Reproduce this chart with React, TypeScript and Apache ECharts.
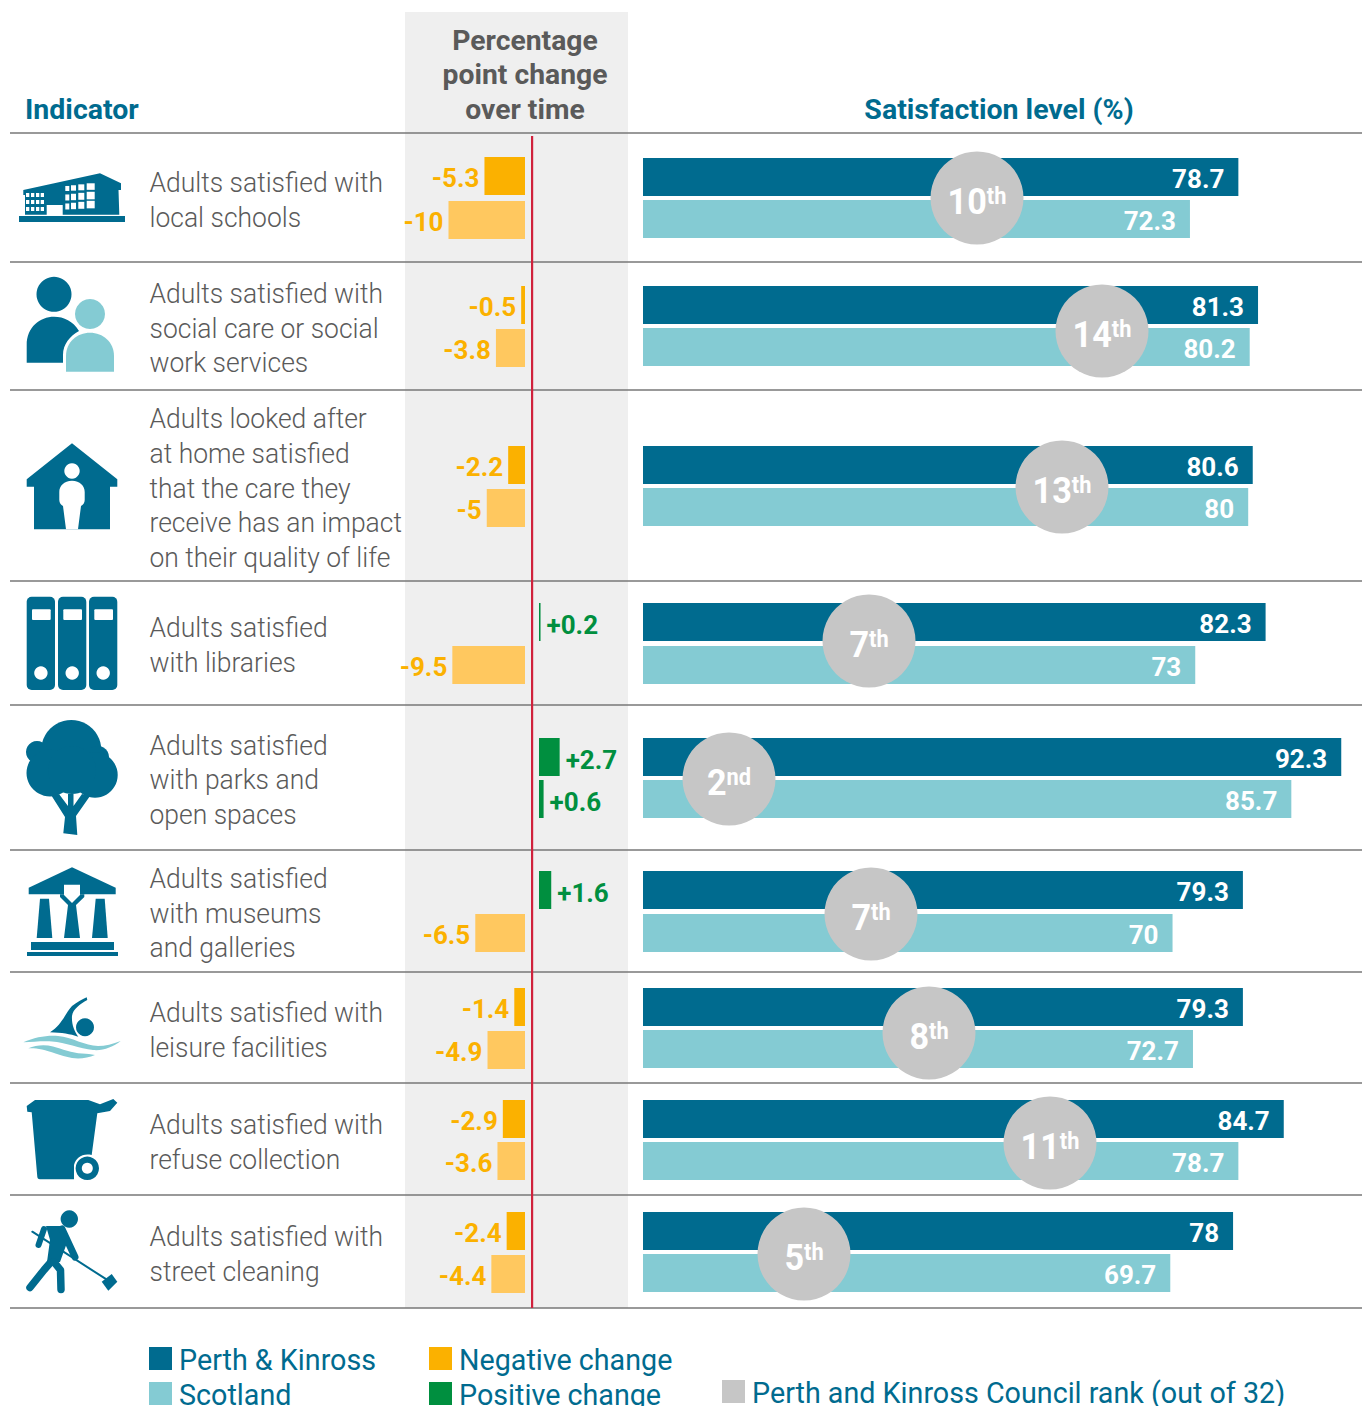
import React, { useEffect, useRef } from "react";
import * as echarts from "echarts";

const indicators = [
  "Adults satisfied with\nlocal schools",
  "Adults satisfied with\nsocial care or social\nwork services",
  "Adults looked after\nat home satisfied\nthat the care they\nreceive has an impact\non their quality of life",
  "Adults satisfied\nwith libraries",
  "Adults satisfied\nwith parks and\nopen spaces",
  "Adults satisfied\nwith museums\nand galleries",
  "Adults satisfied with\nleisure facilities",
  "Adults satisfied with\nrefuse collection",
  "Adults satisfied with\nstreet cleaning",
];
const perthKinross = [78.7, 81.3, 80.6, 82.3, 92.3, 79.3, 79.3, 84.7, 78];
const scotland = [72.3, 80.2, 80, 73, 85.7, 70, 72.7, 78.7, 69.7];
const changeFirst = [-5.3, -0.5, -2.2, 0.2, 2.7, 1.6, -1.4, -2.9, -2.4];
const changeSecond = [-10, -3.8, -5, -9.5, 0.6, -6.5, -4.9, -3.6, -4.4];
const ranks = ["10", "14", "13", "7", "2", "7", "8", "11", "5"];
const rankSuffix = ["th", "th", "th", "th", "nd", "th", "th", "th", "th"];

// layout (pixels)
const barTop1 = [158, 286, 446, 603, 738, 871, 988, 1100, 1212];
const barTop2 = [200, 328, 488, 646, 780, 914, 1030, 1142, 1254];
const changeTop1 = [157, 286, 446, 603, 738, 871, 988, 1100, 1212];
const changeTop2 = [201, 329, 489, 646, 780, 914, 1031, 1142, 1255];
const rowLines = [133, 262, 390, 581, 705, 850, 972, 1083, 1195, 1308];
const textMid = [200, 328.5, 488.5, 645.5, 780, 913.5, 1030.5, 1142, 1254.5];
const rankX = [977, 1102, 1062, 869, 729, 871, 929, 1050, 804];
const rankY = [198, 331, 487, 641, 779, 914, 1033, 1143, 1254];

const DARK = "#006b8f";
const LIGHT = "#84cbd3";
const ORANGE = "#fbb100";
const ORANGE_L = "#ffc85f";
const GREEN = "#008f3f";
const GREY_T = "#5a5a5a";
const FONT = "Roboto";
const BAR_H = 38;
const CHANGE_PX = 7.65;
const SAT_PX = 7.565;

let shapeId = 0;
const P = (d: string, fill: string) => {
  const name = "ico" + shapeId++;
  echarts.graphic.registerShape(name, echarts.graphic.extendPath(d, {}) as any);
  return { type: name, z: 50, style: { fill } };
};
const S = (d: string, stroke: string, lineWidth: number) => {
  const name = "ico" + shapeId++;
  echarts.graphic.registerShape(name, echarts.graphic.extendPath(d, {}) as any);
  return { type: name, z: 50, style: { fill: "none", stroke, lineWidth, lineCap: "round", lineJoin: "round" } };
};
const C = (cx: number, cy: number, r: number, fill: string) => ({ type: "circle", z: 50, shape: { cx, cy, r }, style: { fill } });
const R = (x: number, y: number, width: number, height: number, fill: string, r = 0) => ({ type: "rect", z: 50, shape: { x, y, width, height, r }, style: { fill } });

function buildIcons() {
  const W = "#ffffff";
  const school = [
    R(19, 216, 106, 6, DARK),
    P("M23.3 190 L100 173.3 L121 183.3 L121 190 L118.5 190 L119.3 214.7 L62.7 214.7 L62.7 205 L46.7 205 L46.7 214.7 L25 214.7 L25 195 L23.3 195Z", DARK),
  ] as any[];
  [26, 31, 36, 40.7].forEach((x) => [193, 200, 207].forEach((y) => school.push(R(x, y, 3.3, 4, W))));
  [[65.3, 4], [71, 5], [78.3, 6], [86.7, 8]].forEach(([x, w]) =>
    [[186, 5], [194.5, 6], [203.5, 6]].forEach(([y, h]) => school.push(R(x, y - (x - 65) / 8, w, h + (x - 65) / 14, W)))
  );
  const people = [
    C(54, 294.3, 17.5, DARK),
    C(90, 314, 15, LIGHT),
    P("M26.7 362.7 L26.7 345 C26.7 327 40 316.7 54 316.7 C64 316.7 73 321 79 331 C70 336 63 344 63 355 L63 362.7Z", DARK),
    P("M66 371.7 L66 356 C66 342 77 332.7 90 332.7 C103 332.7 114 342 114 356 L114 371.7Z", LIGHT),
  ];
  const house = [
    P("M72 443.3 L117.3 479.3 L117.3 486.7 L110 486.7 L110 529.3 L34 529.3 L34 486.7 L26.7 486.7 L26.7 479.3Z", DARK),
    C(72, 471, 7.7, W),
    P("M72 480.7 C64 480.7 59.3 486 59.3 492 L59.3 500 C59.3 503 61 505 63 506 L66 529.3 L78 529.3 L81 506 C83 505 84.7 503 84.7 500 L84.7 492 C84.7 486 80 480.7 72 480.7Z", W),
  ];
  const binders = [26.7, 58, 89].flatMap((x) => [
    R(x, 596.7, 28.3, 93.3, DARK, 5),
    R(x + 5.3, 609.3, 18.7, 10.7, W, 1),
    C(x + 14.2, 673, 6.7, W),
  ]);
  const tree = [
    C(71.3, 750, 30, DARK),
    C(37, 752, 11, DARK),
    C(98, 757, 11, DARK),
    C(50, 773, 23.5, DARK),
    C(95, 775, 22.7, DARK),
    C(72, 770, 24, DARK),
    P("M63.3 833.3 L65 817 L51.7 796 L59 794 L68 806 L68 794 L73.5 794 L73.5 806 L82 794 L90 796 L76 816 L77.3 835Z", DARK),
  ];
  const museum = [
    P("M72 867.3 L115.7 887.7 L115.7 894.3 L28.7 894.3 L28.7 887.7Z", DARK),
    P("M60 894.3 L60 897 L68 905 L64 938 L80 938 L76 905 L84.3 897 L84.3 894.3Z", DARK),
    P("M64 884.7 L80 884.7 L80 895 L72 903 L64 895Z", W),
    P("M40 898.7 L49 898.7 L52.3 938 L36.7 938Z", DARK),
    P("M95.7 898.7 L104.7 898.7 L107.7 938 L92 938Z", DARK),
    R(31, 942, 83, 8, DARK),
    R(27, 952, 91, 4, DARK),
  ];
  const swim = [
    C(85, 1027.3, 9, DARK),
    P("M50 1032.3 C62 1025 66 1012 72 1006 C77 1002 83 999 86.7 997.3 L87.3 1000 C80 1004 73 1009 72 1016 C71.5 1024 74 1031 78.3 1036.7 C70 1034 62 1032.5 50 1032.3Z", DARK),
    P("M23.3 1042.3 C35 1037 48 1035 58 1036 C72 1037 85 1046 98 1046 C105 1046 113 1044 120.7 1041 C113 1047 103 1051 93 1050 C80 1049 65 1042 52 1041.5 C42 1041 32 1042 23.3 1042.3Z", LIGHT),
    P("M28.3 1048.3 C36 1045 45 1044.5 53 1046.5 C62 1049 72 1053 82 1053.5 C87 1054 91 1054 95 1055 C88 1058 80 1059 72 1058 C60 1056 50 1051 42 1049.5 C37 1048.5 33 1048 28.3 1048.3Z", LIGHT),
  ];
  const bin = [
    P("M35 1100 L88.3 1100 L100 1104.3 L113.3 1099 L117.3 1102.7 L110 1111 L97.3 1113.3 L91.7 1155 C82 1153 76 1158 74 1165 L74 1179.3 L40 1179.3 C38 1179.3 37.5 1178 37.3 1176.7 L31.7 1112.3 L27.3 1111.7 L26.7 1106Z", DARK),
    C(87.3, 1168.3, 11.7, DARK),
    C(87.3, 1168.3, 5.5, W),
  ];
  const sweeper = [
    C(69.3, 1219, 8.7, DARK),
    S("M32.3 1231.7 L110 1281.7", DARK, 2),
    P("M101.7 1281.7 L111.7 1274 L117.3 1281.7 L108.3 1290.7Z", DARK),
    P("M46 1226 L64 1226 L68 1240 L60 1262 L47 1262 L50 1240Z", DARK),
    S("M62 1229 L75 1257", DARK, 7),
    S("M44 1229 L38.5 1245", DARK, 6),
    S("M51 1262 L44 1270 L30 1287.5", DARK, 7.5),
    S("M54 1262 L60.5 1270 L61 1289.5", DARK, 7.5),
  ];
  return [...school, ...people, ...house, ...binders, ...tree, ...museum, ...swim, ...bin, ...sweeper];
}

const T = (text: string, x: number, y: number, fontSize: number, fontWeight: any, fill: string, align = "left", lineHeight?: number, scaleX = 1) => ({
  type: "text",
  z: 60,
  x,
  y,
  scaleX,
  style: {
    text, fill, fontSize, fontWeight, fontFamily: FONT, lineHeight,
    align, textAlign: align, verticalAlign: "middle", textVerticalAlign: "middle",
  },
});

function buildOption() {
  const grid: any[] = [];
  const xAxis: any[] = [];
  const yAxis: any[] = [];
  const series: any[] = [];
  const addGrid = (left: number, width: number, top: number, height: number, min: number, max: number) => {
    const i = grid.length;
    grid.push({ left, width, top, height, containLabel: false, show: false });
    xAxis.push({ type: "value", gridIndex: i, min, max, show: false });
    yAxis.push({ type: "category", gridIndex: i, inverse: true, data: ["first", "second"], show: false });
    return i;
  };
  const barLabel = (color: string, position: string, distance: number, dy: number, fmt: (v: number) => string) => ({
    show: true, position, distance, offset: [0, dy], color, fontFamily: FONT, fontWeight: 700, fontSize: 26,
    formatter: (p: any) => fmt(p.value),
  });

  perthKinross.forEach((pk, r) => {
    const band = barTop2[r] - barTop1[r];
    const top = barTop1[r] - (band - BAR_H) / 2;
    const cBand = changeTop2[r] - changeTop1[r];
    const cTop = changeTop1[r] - (cBand - BAR_H) / 2;

    const sat = addGrid(643, 95 * SAT_PX, top, band * 2, 0, 95);
    series.push({
      type: "bar", xAxisIndex: sat, yAxisIndex: sat, barWidth: BAR_H, silent: true,
      label: barLabel("#ffffff", "insideRight", 14, 2, (v) => String(v)),
      data: [
        { value: pk, itemStyle: { color: DARK } },
        { value: scotland[r], itemStyle: { color: LIGHT } },
      ],
    });

    const vals = [changeFirst[r], changeSecond[r]];
    const neg = addGrid(525 - 12 * CHANGE_PX, 12 * CHANGE_PX, cTop, cBand * 2, -12, 0);
    series.push({
      type: "bar", xAxisIndex: neg, yAxisIndex: neg, barWidth: BAR_H, silent: true,
      label: barLabel(ORANGE, "left", 5, 2, (v) => String(v)),
      data: vals.map((v, k) => (v < 0 ? { value: v, itemStyle: { color: k === 0 ? ORANGE : ORANGE_L } } : "-")),
    });
    const pos = addGrid(539, 11 * CHANGE_PX, cTop, cBand * 2, 0, 11);
    series.push({
      type: "bar", xAxisIndex: pos, yAxisIndex: pos, barWidth: BAR_H, silent: true,
      label: barLabel(GREEN, "right", 6, 3, (v) => "+" + v),
      data: vals.map((v) => (v > 0 ? { value: v, itemStyle: { color: GREEN } } : "-")),
    });
  });

  const elements: any[] = [
    { type: "rect", z: 0, shape: { x: 405, y: 12, width: 223, height: 1296 }, style: { fill: "#efefef" } },
    { type: "rect", z: 5, shape: { x: 531, y: 136, width: 2.2, height: 1172 }, style: { fill: "#d0213c" } },
  ];
  rowLines.forEach((y) =>
    elements.push({ type: "rect", z: 1, shape: { x: 10, y: y - 0.75, width: 1352, height: 1.5 }, style: { fill: "#777777" } })
  );
  elements.push(T("Indicator", 25, 109, 28.5, 700, DARK));
  elements.push(T("Satisfaction level (%)", 999, 109, 28.5, 700, DARK, "center"));
  elements.push(T("Percentage\npoint change\nover time", 525, 74.5, 28.3, 700, GREY_T, "center", 34.5));
  indicators.forEach((s, i) => elements.push(T(s, 149.5, textMid[i], 28, 300, GREY_T, "left", 34.7, 0.945)));

  ranks.forEach((rank, i) => {
    elements.push({ type: "circle", z: 100, shape: { cx: rankX[i], cy: rankY[i], r: 46.5 }, style: { fill: "#c6c6c6" } });
    elements.push({
      type: "text", z: 101, x: rankX[i], y: rankY[i] + 4, scaleX: 0.95,
      style: {
        text: `{n|${rank}}{s|${rankSuffix[i]}}`,
        align: "center", textAlign: "center", verticalAlign: "middle", textVerticalAlign: "middle",
        fill: "#ffffff", fontFamily: FONT,
        rich: {
          n: { fontSize: 36, fontWeight: 700, fill: "#ffffff", fontFamily: FONT, lineHeight: 36, verticalAlign: "bottom" },
          s: { fontSize: 23, fontWeight: 700, fill: "#ffffff", fontFamily: FONT, lineHeight: 36, verticalAlign: "top", padding: [0, 0, 12, 0] },
        },
      },
    });
  });

  const legend: [string, string, number, number][] = [
    ["Perth & Kinross", DARK, 149, 1347],
    ["Scotland", LIGHT, 149, 1382],
    ["Negative change", ORANGE, 429, 1347],
    ["Positive change", GREEN, 429, 1382],
    ["Perth and Kinross Council rank (out of 32)", "#c6c6c6", 722, 1380],
  ];
  legend.forEach(([label, color, x, y]) => {
    elements.push(R(x, y, 23, 23, color));
    elements.push(T(label, x + 30, y + 13, 28.7, 400, DARK));
  });
  elements.push(...buildIcons());

  return { animation: false, backgroundColor: "#ffffff", grid, xAxis, yAxis, series, graphic: { elements } };
}

export default function App() {
  const ref = useRef<HTMLDivElement>(null);
  useEffect(() => {
    const chart = echarts.init(ref.current!, undefined, { renderer: "svg" });
    chart.setOption(buildOption() as any);
    return () => chart.dispose();
  }, []);
  return <div ref={ref} style={{ position: "absolute", left: 0, top: 0, width: 1362, height: 1406 }} />;
}
